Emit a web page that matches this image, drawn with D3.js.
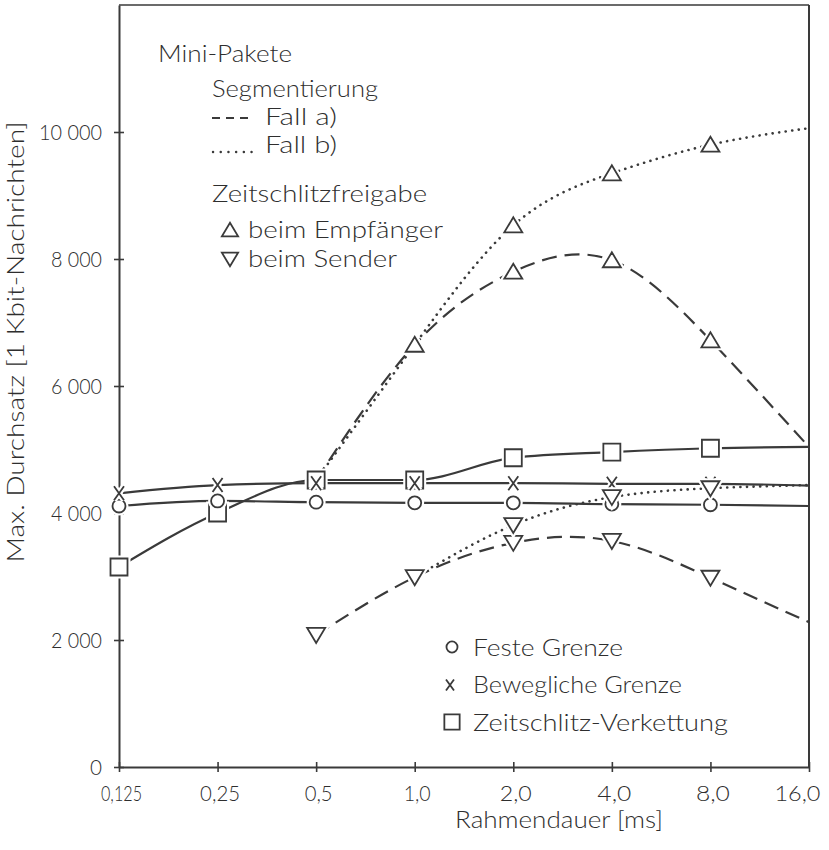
<!DOCTYPE html>
<html>
<head>
<meta charset="utf-8">
<script src="https://cdnjs.cloudflare.com/ajax/libs/d3/7.8.5/d3.min.js"></script>
<style>
  body { margin: 0; background: #fff; }
  text { font-family: Lato, "DejaVu Sans", sans-serif; font-weight: 300; fill: #2e2e2e; }
</style>
</head>
<body>
<script>
// Rahmendauer [ms] (log2 axis)
var frames = [0.125, 0.25, 0.5, 1, 2, 4, 8, 16];
var frameLabels = ["0,125", "0,25", "0,5", "1,0", "2,0", "4,0", "8,0", "16,0"];
var yTicks = [0, 2000, 4000, 6000, 8000, 10000];
var yLabels = ["0", "2 000", "4 000", "6 000", "8 000", "10 000"];

// solid curves, one value per frame (last point at 16 has no marker)
var festeGrenze      = [4110, 4190, 4170, 4160, 4160, 4140, 4130, 4110];
var beweglicheGrenze = [4310, 4440, 4470, 4470, 4470, 4460, 4460, 4430];
var verkettung       = [3150, 4000, 4520, 4520, 4870, 4960, 5020, 5040];

// Segmentierung, Zeitschlitzfreigabe beim Empfaenger
var empfFrames = [0.5, 1, 2, 4, 8, 16];
var empfFallA  = [4520, 6650, 7800, 7980, 6720, 5040];
var empfFallB  = [4520, 6650, 8530, 9350, 9800, 10060];

// Segmentierung, Zeitschlitzfreigabe beim Sender
var senderFramesA = [0.5, 1, 2, 4, 8, 16];
var senderFallA   = [2080, 2990, 3530, 3560, 2980, 2280];
var senderFramesB = [1, 2, 4, 8, 16];
var senderFallB   = [2990, 3810, 4250, 4390, 4440];

var ink = "#3a3a3a";
var width = 829, height = 850;

var svg = d3.select("body").append("svg")
    .attr("width", width)
    .attr("height", height);

var x = d3.scaleLog().base(2).domain([0.125, 16]).range([119, 809]);
var y = d3.scaleLinear().domain([0, 12000]).range([767, 5]);

// frame
svg.append("line").attr("x1", x(0.125)).attr("x2", x(16)).attr("y1", y(12000)).attr("y2", y(12000))
    .attr("stroke", ink).attr("stroke-width", 1.3);
svg.append("line").attr("x1", x(16)).attr("x2", x(16)).attr("y1", y(12000)).attr("y2", y(0))
    .attr("stroke", ink).attr("stroke-width", 2);

// y axis
var yAxis = svg.append("g")
    .attr("transform", "translate(" + x(0.125) + ",0)")
    .call(d3.axisLeft(y).tickValues(yTicks).tickFormat(function (d, i) { return yLabels[i]; })
        .tickSizeOuter(0).tickPadding(11));
yAxis.select(".domain").attr("stroke", ink).attr("stroke-width", 2);
yAxis.selectAll(".tick line").attr("x1", 5).attr("x2", -5).attr("stroke", ink).attr("stroke-width", 1.6);
yAxis.selectAll(".tick text")
    .attr("font-size", 22).attr("font-family", null).style("fill", "#2e2e2e")
    .attr("textLength", function (d) { return d === 0 ? 12 : (d >= 10000 ? 63 : 51); })
    .attr("lengthAdjust", "spacingAndGlyphs");

// x axis
var xAxis = svg.append("g")
    .attr("transform", "translate(0," + y(0) + ")")
    .call(d3.axisBottom(x).tickValues(frames).tickFormat(function (d, i) { return frameLabels[i]; })
        .tickSizeOuter(0).tickPadding(12));
xAxis.select(".domain").attr("stroke", ink).attr("stroke-width", 2);
xAxis.selectAll(".tick line").attr("y1", -5).attr("y2", 5).attr("stroke", ink).attr("stroke-width", 1.6);
var xLabelWidths = [41, 40, 28, 27, 32, 34, 34, 46];
xAxis.selectAll(".tick text")
    .attr("font-size", 22).attr("font-family", null).style("fill", "#2e2e2e")
    .attr("dx", function (d, i) { return i === frames.length - 1 ? -12 : 2; })
    .attr("textLength", function (d, i) { return xLabelWidths[i]; })
    .attr("lengthAdjust", "spacingAndGlyphs");

// axis titles
svg.append("text")
    .attr("x", 455).attr("y", 828)
    .attr("font-size", 24)
    .attr("textLength", 208).attr("lengthAdjust", "spacingAndGlyphs")
    .text("Rahmendauer [ms]");
svg.append("text")
    .attr("transform", "translate(24,342) rotate(-90)")
    .attr("text-anchor", "middle")
    .attr("font-size", 23)
    .attr("textLength", 441).attr("lengthAdjust", "spacingAndGlyphs")
    .text("Max. Durchsatz [1 Kbit-Nachrichten]");

// curves
var dashA = "15,8";
var dotB = "0.1,6.5";

function drawCurve(xs, vals, dash, curve) {
    var pts = xs.map(function (d, i) { return [x(d), y(vals[i])]; });
    var line = d3.line().curve(curve);
    var p = svg.append("path")
        .attr("d", line(pts))
        .attr("fill", "none")
        .attr("stroke", ink)
        .attr("stroke-width", dash === dotB ? 2.6 : 2.2);
    if (dash) p.attr("stroke-dasharray", dash);
    if (dash === dotB) p.attr("stroke-linecap", "round");
}

drawCurve(frames, festeGrenze, null, d3.curveMonotoneX);
drawCurve(frames, beweglicheGrenze, null, d3.curveMonotoneX);
drawCurve(frames, verkettung, null, d3.curveMonotoneX);
drawCurve(empfFrames, empfFallA, dashA, d3.curveNatural);
drawCurve(empfFrames, empfFallB, dotB, d3.curveNatural);
drawCurve(senderFramesA, senderFallA, dashA, d3.curveNatural);
drawCurve(senderFramesB, senderFallB, dotB, d3.curveNatural);

// markers
function shapePath(type, cx, cy, s) {
    if (type === "triUp") {
        return "M" + (cx - 9 * s) + "," + (cy + 7 * s) + "L" + (cx + 9 * s) + "," + (cy + 7 * s) +
            "L" + cx + "," + (cy - 8 * s) + "Z";
    }
    if (type === "triDown") {
        return "M" + (cx - 9 * s) + "," + (cy - 7 * s) + "L" + (cx + 9 * s) + "," + (cy - 7 * s) +
            "L" + cx + "," + (cy + 8 * s) + "Z";
    }
    if (type === "square") {
        var h = 8.5 * s;
        return "M" + (cx - h) + "," + (cy - h) + "h" + 2 * h + "v" + 2 * h + "h" + (-2 * h) + "Z";
    }
    if (type === "cross") {
        return "M" + (cx - 5 * s) + "," + (cy - 7 * s) + "L" + (cx + 5 * s) + "," + (cy + 7 * s) +
            "M" + (cx + 5 * s) + "," + (cy - 7 * s) + "L" + (cx - 5 * s) + "," + (cy + 7 * s);
    }
    var r = 6.5 * s;
    return "M" + (cx - r) + "," + cy + "a" + r + "," + r + " 0 1,0 " + 2 * r + ",0" +
        "a" + r + "," + r + " 0 1,0 " + (-2 * r) + ",0Z";
}

function marker(type, cx, cy, s) {
    var d = shapePath(type, cx, cy, s || 1);
    svg.append("path").attr("d", d)
        .attr("fill", type === "cross" ? "none" : "#fff")
        .attr("stroke", "#fff").attr("stroke-width", 6);
    svg.append("path").attr("d", d)
        .attr("fill", type === "cross" ? "none" : "#fff")
        .attr("stroke", ink).attr("stroke-width", 1.8);
}

function drawMarkers(type, xs, vals, from) {
    xs.forEach(function (d, i) {
        if (i < from || d === 16) return;
        marker(type, x(d), y(vals[i]));
    });
}

drawMarkers("square", frames, verkettung, 0);
drawMarkers("circle", frames, festeGrenze, 0);
drawMarkers("cross", frames, beweglicheGrenze, 0);
drawMarkers("triUp", empfFrames, empfFallA, 1);
drawMarkers("triUp", empfFrames, empfFallB, 1);
drawMarkers("triDown", senderFramesA, senderFallA, 0);
drawMarkers("triDown", senderFramesB, senderFallB, 1);

// legend (upper)
function label(txt, lx, ly, len) {
    svg.append("text").attr("x", lx).attr("y", ly)
        .attr("font-size", 24)
        .attr("textLength", len).attr("lengthAdjust", "spacingAndGlyphs")
        .text(txt);
}
label("Mini-Pakete", 158, 62, 134);
label("Segmentierung", 212, 97, 166);
svg.append("path").attr("d", "M212,118H249").attr("stroke", ink).attr("stroke-width", 2)
    .attr("stroke-dasharray", "8,6");
label("Fall a)", 265, 125, 72);
svg.append("path").attr("d", "M213,152H252").attr("stroke", ink).attr("stroke-width", 2.4)
    .attr("stroke-linecap", "round").attr("stroke-dasharray", "0.1,7.6");
label("Fall b)", 265, 153, 72);
label("Zeitschlitzfreigabe", 212, 202, 215);
marker("triUp", 230, 230, 0.9);
label("beim Empfänger", 248, 238, 195);
marker("triDown", 230, 259, 0.9);
label("beim Sender", 248, 267, 149);

// legend (lower)
marker("circle", 452, 647, 0.85);
label("Feste Grenze", 473, 656, 150);
marker("cross", 450, 685, 0.8);
label("Bewegliche Grenze", 473, 693, 209);
marker("square", 452, 722, 0.9);
label("Zeitschlitz-Verkettung", 473, 731, 255);
</script>
</body>
</html>
